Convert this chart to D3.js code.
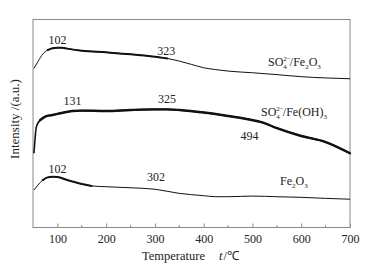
<!DOCTYPE html>
<html>
<head>
<meta charset="utf-8">
<script src="https://cdn.jsdelivr.net/npm/d3@7"></script>
<style>
  body { margin: 0; background: #fff; }
  svg text { font-family: "Liberation Serif", "Times New Roman", serif; }
</style>
</head>
<body>
<svg id="chart" width="369" height="268"></svg>
<script>
// temperature (°C) and relative intensity
const tSulfFe2O3 = [52, 60, 70, 80, 90, 100, 110, 120, 150, 200, 250, 300, 325, 350, 375, 400, 425, 450, 500, 550, 600, 650, 700];
const vSulfFe2O3 = [76.5, 79.7, 83.4, 85.3, 86.2, 86.4, 86.4, 86.0, 85.0, 84.2, 83.3, 82.1, 81.3, 80.0, 78.4, 76.8, 75.9, 75.2, 74.4, 73.5, 72.5, 71.9, 71.5];

const tSulfFeOH = [52, 57, 65, 75, 90, 100, 131, 150, 200, 250, 300, 325, 350, 400, 450, 494, 520, 550, 600, 650, 700];
const vSulfFeOH = [35.7, 48.5, 51.7, 53.3, 54.1, 54.6, 56.0, 56.2, 56.0, 56.5, 56.8, 56.8, 56.5, 55.3, 53.6, 51.9, 50.5, 47.8, 44.0, 41.1, 35.7];

const tFe2O3 = [52, 60, 70, 80, 90, 100, 120, 150, 170, 200, 250, 300, 350, 400, 425, 450, 500, 550, 600, 650, 700];
const vFe2O3 = [18.0, 20.4, 22.8, 24.1, 24.4, 24.3, 22.8, 20.9, 20.0, 19.6, 19.1, 18.4, 16.4, 15.3, 14.8, 14.8, 15.1, 14.8, 14.5, 14.0, 13.6];

const majorTicks = [100, 200, 300, 400, 500, 600, 700];
const minorTicks = [150, 250, 350, 450, 550, 650];

// peak labels: [temperature, text]
const peaksSulfFe2O3 = [[100, "102"], [323, "323"]];
const peaksSulfFeOH = [[131, "131"], [325, "325"], [494, "494"]];
const peaksFe2O3 = [[100, "102"], [302, "302"]];

const FONT = "'Liberation Serif', 'Times New Roman', serif";
const svg = d3.select("#chart");
const margin = { left: 33, top: 19.5, right: 19, bottom: 40.5 };
const W = 369, H = 268;

const x = d3.scaleLinear().domain([50, 700]).range([margin.left, W - margin.right]);
const y = d3.scaleLinear().domain([0, 100]).range([H - margin.bottom, margin.top]);

// frame
svg.append("rect")
  .attr("x", margin.left).attr("y", margin.top)
  .attr("width", W - margin.right - margin.left)
  .attr("height", H - margin.bottom - margin.top)
  .attr("fill", "none").attr("stroke", "#8a8a8a").attr("stroke-width", 1);

const axis = svg.append("g").attr("transform", `translate(0,${H - margin.bottom})`);
axis.call(d3.axisBottom(x).tickValues(majorTicks).tickSize(-4).tickPadding(7).tickFormat(d3.format("d")));
axis.attr("font-family", null);
axis.select(".domain").remove();
axis.selectAll(".tick line").attr("stroke", "#8a8a8a");
axis.selectAll(".tick text")
  .style("font-family", FONT).attr("font-size", 12).attr("fill", "#222");
axis.selectAll(".minor").data(minorTicks).join("line")
  .attr("class", "minor")
  .attr("x1", d => x(d)).attr("x2", d => x(d))
  .attr("y1", 0).attr("y2", -2.5)
  .attr("stroke", "#8a8a8a");

// axis titles
const xt = svg.append("text")
  .attr("x", 142).attr("y", 260)
  .style("font-family", FONT)
  .attr("font-size", 12.5).attr("fill", "#222");
xt.append("tspan").text("Temperature");
xt.append("tspan").attr("dx", 14).attr("font-style", "italic").text("t");
xt.append("tspan").attr("dx", 1).text("/℃");

svg.append("text")
  .attr("transform", "translate(19,119) rotate(-90)")
  .attr("text-anchor", "middle")
  .style("font-family", FONT)
  .attr("font-size", 13).attr("fill", "#222")
  .text("Intensity /(a.u.)");

const line = d3.line().x(d => x(d[0])).y(d => y(d[1])).curve(d3.curveMonotoneX);

function series(ts, vs, baseWidth, thickFrom, thickTo, thickWidth) {
  const pts = ts.map((t, i) => [t, vs[i]]);
  svg.append("path").datum(pts)
    .attr("d", line).attr("fill", "none")
    .attr("stroke", "#111").attr("stroke-width", baseWidth);
  const seg = pts.filter(p => p[0] >= thickFrom && p[0] <= thickTo);
  svg.append("path").datum(seg)
    .attr("d", line).attr("fill", "none")
    .attr("stroke", "#111").attr("stroke-width", thickWidth)
    .attr("stroke-linecap", "round");
  return pts;
}

series(tSulfFe2O3, vSulfFe2O3, 1, 80, 325, 2);
series(tSulfFeOH, vSulfFeOH, 1.6, 65, 700, 2.4);
series(tFe2O3, vFe2O3, 1, 70, 170, 2);

function peakLabels(list, ys) {
  list.forEach(([t, lab], i) => {
    svg.append("text")
      .attr("x", x(t)).attr("y", ys[i])
      .attr("text-anchor", "middle")
      .style("font-family", FONT)
      .attr("font-size", 12).attr("fill", "#222")
      .text(lab);
  });
}
peakLabels(peaksSulfFe2O3, [43.5, 54.5]);
peakLabels(peaksSulfFeOH, [105, 103, 139.5]);
peakLabels(peaksFe2O3, [172.5, 181]);

// series names with sub/superscripts
function sulfLabel(xp, yp, tail) {
  const t = svg.append("text").attr("x", xp).attr("y", yp)
    .style("font-family", FONT)
    .attr("font-size", 12).attr("fill", "#222");
  t.append("tspan").text("SO");
  t.append("tspan").attr("font-size", 7).attr("dy", 3).text("4");
  t.append("tspan").attr("font-size", 7).attr("dx", -3.5).attr("dy", -8).text("2−");
  t.append("tspan").attr("dx", -1).attr("dy", 5).text("/Fe");
  tail(t);
}
sulfLabel(268, 66, t => {
  t.append("tspan").attr("font-size", 7).attr("dy", 3).text("2");
  t.append("tspan").attr("dy", -3).text("O");
  t.append("tspan").attr("font-size", 7).attr("dy", 3).text("3");
});
sulfLabel(261, 116, t => {
  t.append("tspan").text("(OH)");
  t.append("tspan").attr("font-size", 7).attr("dy", 3).text("3");
});
const fe = svg.append("text").attr("x", 280).attr("y", 185)
  .style("font-family", FONT)
  .attr("font-size", 12).attr("fill", "#222");
fe.append("tspan").text("Fe");
fe.append("tspan").attr("font-size", 7).attr("dy", 3).text("2");
fe.append("tspan").attr("dy", -3).text("O");
fe.append("tspan").attr("font-size", 7).attr("dy", 3).text("3");
</script>
</body>
</html>
